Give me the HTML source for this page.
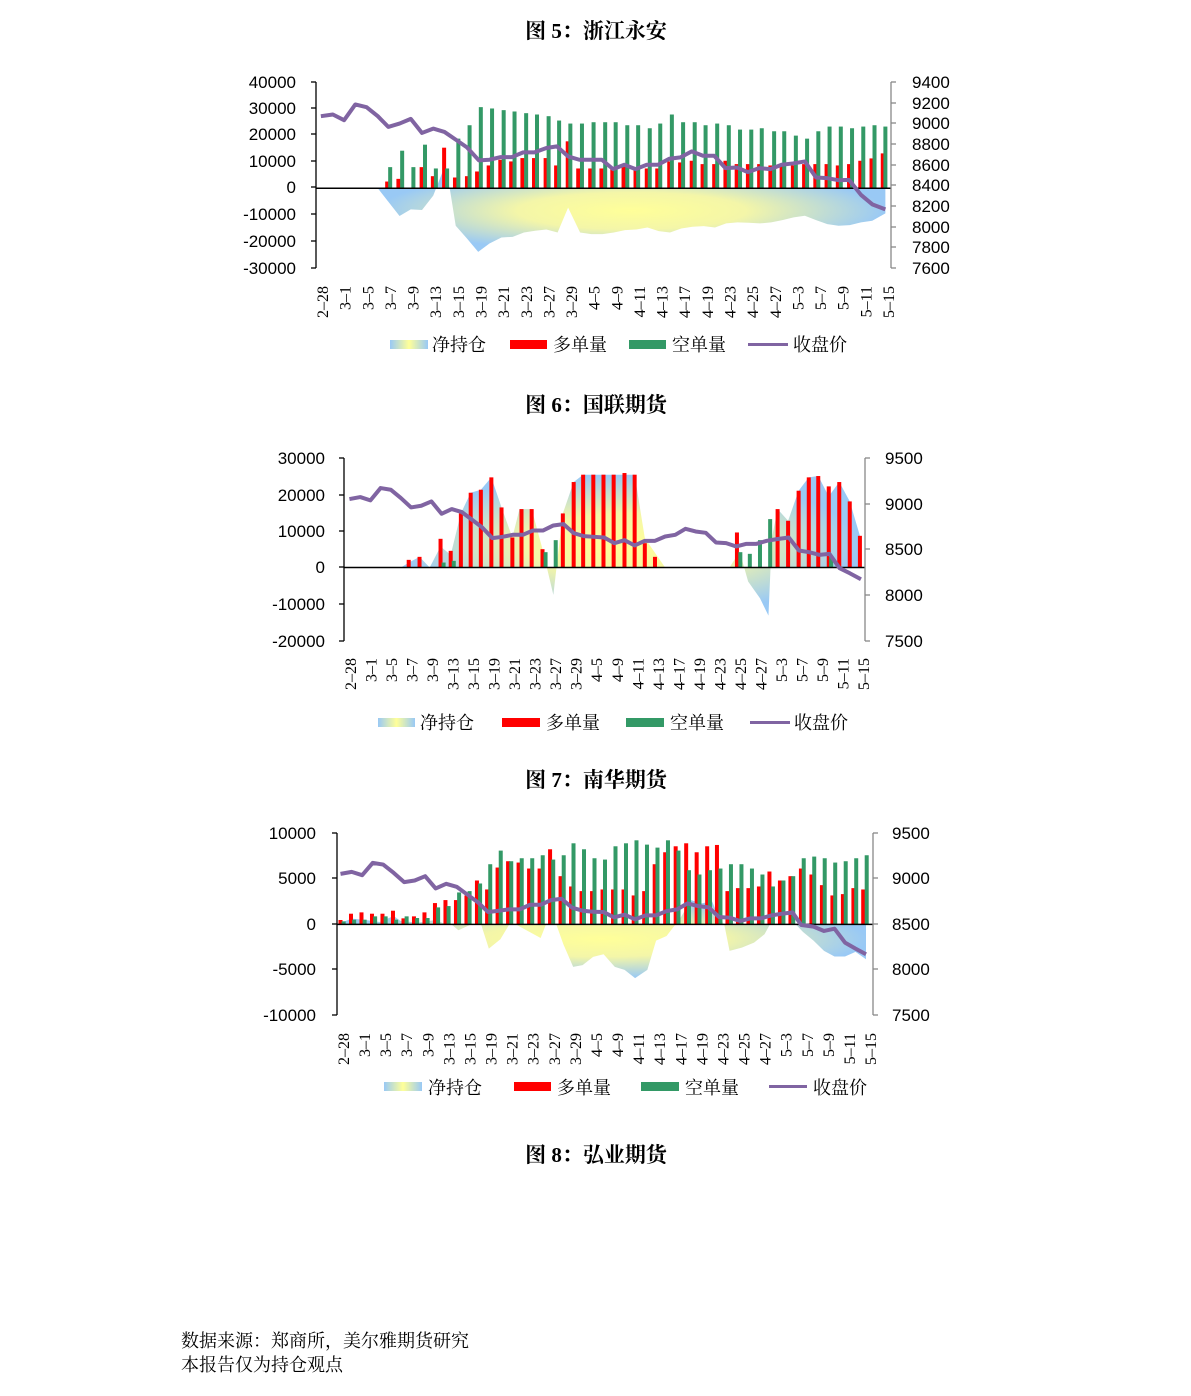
<!DOCTYPE html>
<html><head><meta charset="utf-8">
<style>
html,body{margin:0;padding:0;background:#fff;}
svg{display:block;}
.t{font-family:"Liberation Serif","Noto Serif CJK SC",serif;font-size:21px;font-weight:bold;}
.n{font-family:"Liberation Sans",sans-serif;font-size:17px;}
.d{font-family:"Liberation Serif",serif;font-size:16px;}
.l{font-family:"Liberation Serif","Noto Serif CJK SC",serif;font-size:18px;}
.f{font-family:"Liberation Serif","Noto Serif CJK SC",serif;font-size:18px;}
</style></head><body>
<svg id="s" width="1191" height="1396" viewBox="0 0 1191 1396" xmlns="http://www.w3.org/2000/svg">
<defs>
<radialGradient id="g"><stop offset="0" stop-color="#ffff99"/><stop offset="0.45" stop-color="#f4f6a8"/><stop offset="1" stop-color="#99c9f5"/></radialGradient>
<linearGradient id="lg" x1="0" x2="1"><stop offset="0" stop-color="#99c9f5"/><stop offset="0.5" stop-color="#ffff99"/><stop offset="1" stop-color="#99c9f5"/></linearGradient>
</defs>
<g id="c1"></g><g id="c2"></g><g id="c3"></g>

<text class="t" x="596" y="38" text-anchor="middle">图 5：浙江永安</text>
<g class="n" text-anchor="end">
<text x="296" y="88">40000</text><text x="296" y="114">30000</text><text x="296" y="140">20000</text><text x="296" y="167">10000</text><text x="296" y="193">0</text><text x="296" y="220">-10000</text><text x="296" y="247">-20000</text><text x="296" y="274">-30000</text>
</g>
<g class="n">
<text x="912" y="88">9400</text><text x="912" y="109">9200</text><text x="912" y="129">9000</text><text x="912" y="150">8800</text><text x="912" y="171">8600</text><text x="912" y="191">8400</text><text x="912" y="212">8200</text><text x="912" y="233">8000</text><text x="912" y="253">7800</text><text x="912" y="274">7600</text>
</g>
<g id="d1" class="d" text-anchor="end"></g>
<rect x="390" y="340" width="38" height="9" fill="url(#lg)"/><text class="l" x="432" y="351">净持仓</text>
<rect x="510" y="340" width="37" height="9" fill="#f00"/><text class="l" x="553" y="351">多单量</text>
<rect x="629" y="340" width="37" height="9" fill="#339966"/><text class="l" x="672" y="351">空单量</text>
<rect x="748" y="343" width="40" height="3" fill="#8064a2"/><text class="l" x="793" y="351">收盘价</text>

<text class="t" x="596" y="412" text-anchor="middle">图 6：国联期货</text>
<g class="n" text-anchor="end">
<text x="325" y="464">30000</text><text x="325" y="501">20000</text><text x="325" y="537">10000</text><text x="325" y="573">0</text><text x="325" y="610">-10000</text><text x="325" y="647">-20000</text>
</g>
<g class="n">
<text x="885" y="464">9500</text><text x="885" y="510">9000</text><text x="885" y="555">8500</text><text x="885" y="601">8000</text><text x="885" y="647">7500</text>
</g>
<g id="d2" class="d" text-anchor="end"></g>
<rect x="378" y="718" width="37" height="9" fill="url(#lg)"/><text class="l" x="420" y="729">净持仓</text>
<rect x="502" y="718" width="38" height="9" fill="#f00"/><text class="l" x="546" y="729">多单量</text>
<rect x="626" y="718" width="38" height="9" fill="#339966"/><text class="l" x="670" y="729">空单量</text>
<rect x="750" y="721" width="40" height="3" fill="#8064a2"/><text class="l" x="794" y="729">收盘价</text>

<text class="t" x="596" y="787" text-anchor="middle">图 7：南华期货</text>
<g class="n" text-anchor="end">
<text x="316" y="839">10000</text><text x="316" y="884">5000</text><text x="316" y="930">0</text><text x="316" y="975">-5000</text><text x="316" y="1021">-10000</text>
</g>
<g class="n">
<text x="892" y="839">9500</text><text x="892" y="884">9000</text><text x="892" y="930">8500</text><text x="892" y="975">8000</text><text x="892" y="1021">7500</text>
</g>
<g id="d3" class="d" text-anchor="end"></g>
<rect x="384" y="1082" width="38" height="9" fill="url(#lg)"/><text class="l" x="428" y="1094">净持仓</text>
<rect x="514" y="1082" width="37" height="9" fill="#f00"/><text class="l" x="557" y="1094">多单量</text>
<rect x="641" y="1082" width="38" height="9" fill="#339966"/><text class="l" x="685" y="1094">空单量</text>
<rect x="769" y="1085" width="38" height="3" fill="#8064a2"/><text class="l" x="813" y="1094">收盘价</text>

<text class="t" x="596" y="1162" text-anchor="middle">图 8：弘业期货</text>
<text class="f" x="181" y="1347">数据来源：郑商所，美尔雅期货研究</text>
<text class="f" x="181" y="1371">本报告仅为持仓观点</text>
</svg>
<script>
var NS="http://www.w3.org/2000/svg";
function el(p,t,a){var e=document.createElementNS(NS,t);for(var k in a)e.setAttribute(k,a[k]);p.appendChild(e);return e;}
var dates=["2–28","3–1","3–5","3–7","3–9","3–13","3–15","3–19","3–21","3–23","3–27","3–29","4–5","4–9","4–11","4–13","4–17","4–19","4–23","4–25","4–27","5–3","5–7","5–9","5–11","5–15"];
function dl(id,x0,x1,y){var g=document.getElementById(id);for(var i=0;i<dates.length;i++){var x=x0+(x1-x0)*i/25;var t=el(g,"text",{transform:"translate("+(x+5)+","+y+") rotate(-90)"});t.textContent=dates[i];}}
dl("d1",323,889,286);dl("d2",351,864,658);dl("d3",344,871,1033);
function chart(id,c){
 var g=document.getElementById(id);
 function mx(x){return c.ox0+(x-c.zx0)*(c.ox1-c.ox0)/(c.zx1-c.zx0);}
 function my(y){return c.oy0+(y-c.zy0)*(c.oy1-c.oy0)/(c.zy1-c.zy0);}
 var z=my(c.zero);
 el(g,"polygon",{points:c.area.map(function(p){return mx(p[0])+","+my(p[1]);}).join(" "),fill:"url(#g)"});
 c.red.forEach(function(p){var y=my(p[1]);el(g,"rect",{x:mx(p[0])-2,y:y,width:4,height:z-y,fill:"#ff0000"});});
 c.green.forEach(function(p){var y=my(p[1]);el(g,"rect",{x:mx(p[0])-2,y:y,width:4,height:z-y,fill:"#339966"});});
 el(g,"line",{x1:c.ox0,x2:c.ox1,y1:z,y2:z,stroke:"#000","stroke-width":1.5});
 el(g,"line",{x1:c.ox0,x2:c.ox0,y1:c.top,y2:c.bot,stroke:"#000","stroke-width":1.3});
 el(g,"line",{x1:c.ox1,x2:c.ox1,y1:c.top,y2:c.bot,stroke:"#888","stroke-width":1.3});
 c.lt.forEach(function(y){el(g,"line",{x1:c.ox0-5,x2:c.ox0,y1:y,y2:y,stroke:"#000","stroke-width":1.3});});
 c.rt.forEach(function(y){el(g,"line",{x1:c.ox1,x2:c.ox1+5,y1:y,y2:y,stroke:"#888","stroke-width":1.3});});
 el(g,"polyline",{points:c.price.map(function(p){return mx(p[0])+","+my(p[1]);}).join(" "),fill:"none",stroke:"#8064a2","stroke-width":4,"stroke-linejoin":"round"});
}
var P1=[[28,135],[60,130],[90,147],[120,100],[150,108],[180,135],[208,167],[238,157],[268,143],[298,185],[328,172],[358,182],[388,205],[418,228],[450,267],[478,265],[508,257],[538,257],[568,243],[598,243],[630,230],[658,225],[688,255],[718,265],[748,265],[778,265],[808,293],[838,280],[868,293],[898,280],[928,280],[958,262],[988,258],[1018,240],[1048,253],[1078,253],[1108,290],[1138,288],[1168,302],[1198,290],[1228,293],[1258,280],[1288,276],[1320,270],[1350,318],[1380,320],[1410,326],[1438,325],[1470,370],[1500,398],[1535,413]];
chart("c1",{zx0:15,zx1:1550,ox0:316,ox1:891,zy0:33,zy1:588,oy0:82,oy1:268,zero:350,top:82,bot:268,
lt:[82,108,134,161,187,214,241,268],rt:[82,103,123,144,165,185,206,227,247,268],
red:[[205,330],[235,322],[297,287],[327,314],[357,229],[386,318],[418,314],[445,300],[476,282],[507,265],[536,270],[566,260],[597,260],[628,260],[656,282],[687,210],[715,291],[747,291],[777,291],[806,291],[836,285],[868,291],[898,291],[926,291],[958,270],[987,273],[1018,268],[1047,278],[1078,278],[1108,268],[1138,278],[1168,278],[1198,278],[1228,282],[1258,285],[1288,282],[1318,278],[1348,278],[1378,278],[1408,282],[1438,278],[1468,268],[1498,261],[1528,246]],
green:[[213,287],[245,238],[275,287],[306,220],[335,291],[365,291],[395,202],[425,162],[455,108],[485,112],[516,117],[545,121],[576,126],[605,130],[636,135],[664,148],[694,157],[725,157],[756,153],[787,153],[815,153],[846,162],[875,162],[906,171],[934,157],[965,130],[995,153],[1026,153],[1055,162],[1086,157],[1117,162],[1147,175],[1177,175],[1205,171],[1238,180],[1265,180],[1296,193],[1326,202],[1356,180],[1386,166],[1416,166],[1446,171],[1476,166],[1506,162],[1535,166]],
area:[[180,350],[238,433],[268,413],[298,415],[328,372],[355,295],[372,350],[388,462],[418,500],[448,540],[478,515],[510,497],[540,495],[570,482],[600,477],[630,473],[660,482],[688,408],[720,482],[750,487],[780,487],[810,482],[840,475],[870,473],[900,467],[930,478],[960,482],[990,470],[1020,465],[1050,463],[1080,467],[1110,455],[1140,452],[1170,453],[1200,455],[1230,452],[1260,445],[1290,437],[1320,432],[1350,445],[1380,457],[1410,462],[1440,460],[1470,452],[1500,447],[1535,425],[1535,350]],
price:P1});
var P2=[[28,143],[60,137],[90,147],[120,110],[150,115],[180,140],[210,168],[240,163],[270,150],[300,187],[330,173],[360,182],[390,205],[420,228],[450,260],[480,256],[510,250],[540,250],[570,237],[600,237],[630,222],[660,218],[690,245],[720,254],[750,256],[780,258],[810,275],[840,266],[870,282],[900,268],[930,268],[960,255],[990,250],[1020,232],[1050,240],[1080,244],[1110,273],[1140,275],[1170,285],[1200,277],[1230,277],[1260,268],[1290,263],[1325,258],[1355,297],[1385,302],[1415,310],[1445,307],[1475,350],[1505,365],[1538,383]];
chart("c2",{zx0:12,zx1:1550,ox0:344,ox1:865,zy0:20,zy1:568,oy0:458,oy1:641,zero:348,top:458,bot:641,
lt:[458,495,531,567,604,641],rt:[458,504,549,595,641],
red:[[203,325],[235,316],[297,262],[327,298],[357,186],[386,124],[416,115],[447,78],[477,168],[509,258],[536,173],[566,173],[598,293],[658,186],[690,92],[718,70],[748,70],[778,70],[808,70],[840,65],[870,70],[900,275],[930,316],[1172,243],[1292,173],[1323,208],[1354,118],[1384,78],[1412,74],[1443,105],[1474,92],[1505,150],[1535,253]],
green:[[306,333],[336,328],[607,302],[637,266],[1182,302],[1210,307],[1240,266],[1270,203],[1450,318]],
area:[[180,348],[205,332],[235,316],[265,348],[297,285],[327,310],[357,186],[386,124],[416,115],[447,78],[477,168],[509,258],[530,173],[566,173],[598,293],[630,430],[658,186],[690,92],[718,70],[870,70],[900,260],[960,348],[1150,348],[1180,300],[1205,390],[1240,440],[1265,492],[1275,260],[1292,173],[1323,208],[1354,118],[1384,78],[1412,74],[1443,135],[1474,92],[1505,150],[1535,253],[1535,348]],
price:P2});
var P3=[[28,143],[60,137],[90,147],[120,110],[150,115],[180,140],[210,168],[240,163],[270,150],[300,187],[330,173],[360,182],[390,205],[420,228],[450,258],[480,254],[510,250],[540,250],[570,236],[600,236],[630,222],[660,218],[690,245],[720,254],[750,257],[780,258],[810,274],[840,266],[870,280],[900,268],[930,268],[960,255],[990,250],[1020,232],[1050,240],[1080,244],[1110,273],[1140,275],[1170,285],[1200,277],[1230,277],[1260,268],[1290,263],[1320,259],[1345,297],[1380,302],[1410,315],[1440,308],[1470,350],[1500,368],[1530,385]];
chart("c3",{zx0:18,zx1:1550,ox0:337,ox1:873,zy0:20,zy1:568,oy0:833,oy1:1015,zero:295,top:833,bot:1015,
lt:[833,878,924,969,1015],rt:[833,878,924,969,1015],
red:[[28,282],[58,263],[88,259],[118,263],[148,263],[178,254],[208,277],[238,271],[268,259],[298,231],[328,222],[358,222],[388,208],[418,163],[447,190],[477,124],[507,105],[537,109],[567,127],[597,127],[627,69],[657,150],[687,181],[717,195],[747,195],[777,190],[807,190],[837,190],[866,208],[896,195],[926,114],[956,78],[986,60],[1016,51],[1046,78],[1076,60],[1104,56],[1134,195],[1164,186],[1194,186],[1224,181],[1254,136],[1284,163],[1314,150],[1344,127],[1374,145],[1404,177],[1434,208],[1464,204],[1494,186],[1522,190]],
green:[[37,286],[67,281],[97,281],[127,271],[157,271],[187,281],[217,271],[247,276],[277,276],[307,244],[337,240],[367,199],[397,195],[427,172],[456,114],[486,73],[516,105],[546,96],[576,96],[606,87],[636,100],[666,87],[694,51],[724,69],[754,96],[784,100],[814,60],[844,51],[874,42],[904,55],[934,64],[964,42],[994,73],[1024,132],[1054,145],[1084,132],[1114,127],[1144,114],[1174,114],[1204,127],[1234,145],[1264,181],[1294,163],[1322,150],[1352,96],[1382,91],[1412,96],[1442,109],[1472,105],[1502,96],[1532,87]],
area:[[18,295],[60,278],[100,282],[140,288],[180,270],[200,285],[250,290],[300,282],[330,295],[345,295],[365,313],[400,296],[430,296],[452,368],[485,340],[510,296],[530,296],[600,336],[615,296],[645,296],[665,355],[693,423],[720,418],[750,393],[780,385],[812,423],[840,432],[870,457],[905,432],[930,344],[960,330],[1000,275],[1030,222],[1060,232],[1090,226],[1110,275],[1125,296],[1140,375],[1175,365],[1210,350],[1240,325],[1255,296],[1330,296],[1350,318],[1380,344],[1410,375],[1440,392],[1470,392],[1500,378],[1530,400],[1530,296]],
price:P3});
</script>
</body></html>
